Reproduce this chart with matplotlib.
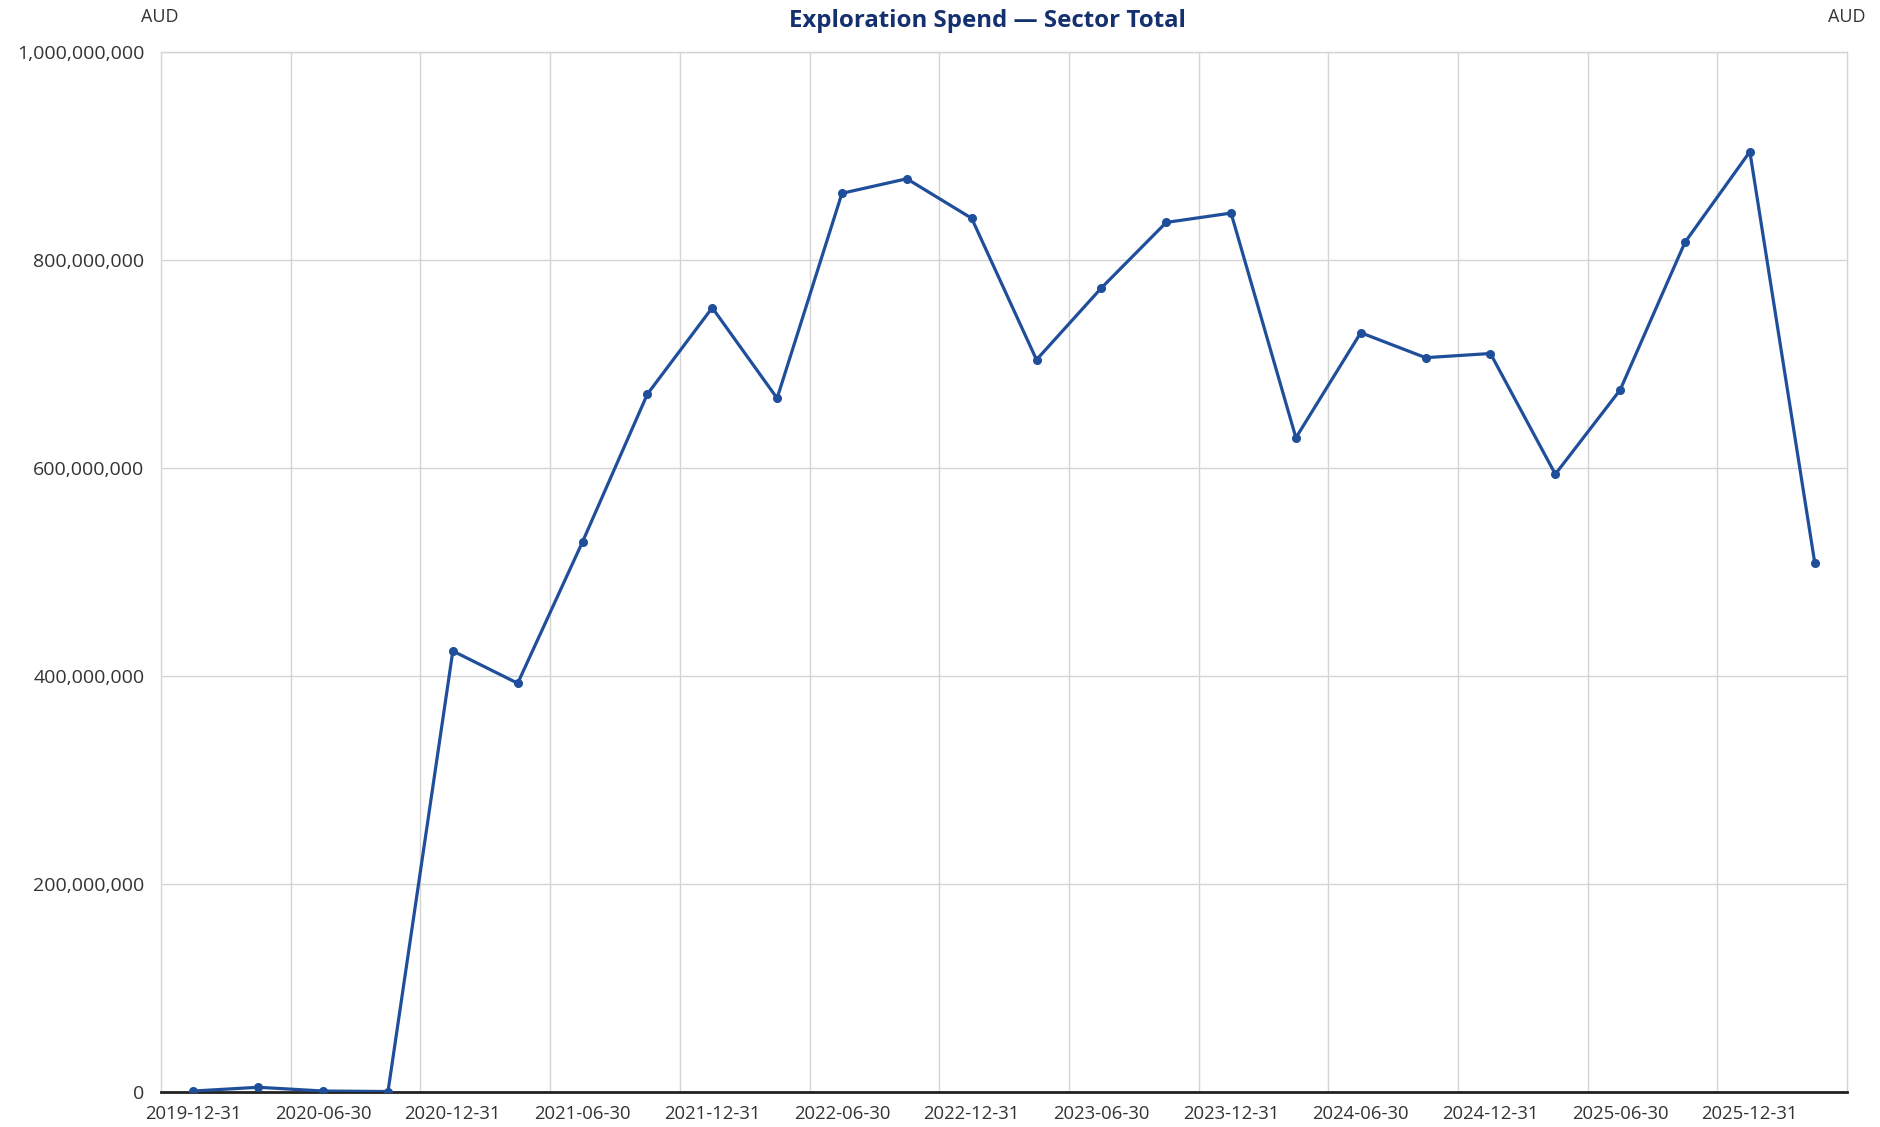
import matplotlib
matplotlib.use("Agg")
import matplotlib.pyplot as plt
from matplotlib.ticker import FuncFormatter

plt.rcParams["font.family"] = ["Open Sans", "DejaVu Sans"]

# quarterly periods
periods = [
    "2019-12-31", "2020-03-31", "2020-06-30", "2020-09-30",
    "2020-12-31", "2021-03-31", "2021-06-30", "2021-09-30",
    "2021-12-31", "2022-03-31", "2022-06-30", "2022-09-30",
    "2022-12-31", "2023-03-31", "2023-06-30", "2023-09-30",
    "2023-12-31", "2024-03-31", "2024-06-30", "2024-09-30",
    "2024-12-31", "2025-03-31", "2025-06-30", "2025-09-30",
    "2025-12-31", "2026-03-31",
]
# exploration spend, AUD
spend = [
    1.0e6, 4.6e6, 1.0e6, 0.5e6,
    424e6, 393e6, 529e6, 671e6,
    754e6, 667e6, 864e6, 878e6,
    840e6, 704e6, 773e6, 836e6,
    845e6, 629e6, 730e6, 706e6,
    710e6, 594e6, 675e6, 817e6,
    904e6, 509e6,
]
y_ticks = [0, 200e6, 400e6, 600e6, 800e6, 1000e6]

LINE = "#1f4e9a"
TITLE = "#14306e"
TEXT = "#333333"

fig = plt.figure(figsize=(18.81, 11.27), dpi=100)
ax = fig.add_axes([0.0856, 0.031, 0.8964, 0.923])

x = list(range(len(periods)))
ax.plot(x, spend, color=LINE, lw=2.3, marker="o", ms=5.5, zorder=3)

ax.set_xlim(-0.5, len(periods) - 0.5)
ax.set_ylim(0, 1e9)
ax.set_yticks(y_ticks)
ax.yaxis.set_major_formatter(FuncFormatter(lambda v, _: f"{v:,.0f}"))
ax.set_xticks(x[::2])
ax.set_xticklabels(periods[::2])
ax.set_xticks([i + 1.5 for i in range(0, len(periods) - 2, 2)], minor=True)

ax.grid(axis="y", color="#d4d4d4", lw=1.0)
ax.grid(axis="x", which="minor", color="#d4d4d4", lw=1.0)
ax.grid(axis="x", which="major", visible=False)
ax.set_axisbelow(True)

for side in ["top", "right", "left"]:
    ax.spines[side].set_color("#d4d4d4")
    ax.spines[side].set_linewidth(1.0)
ax.spines["bottom"].set_color("#222222")
ax.spines["bottom"].set_linewidth(2.0)

ax.tick_params(axis="both", which="both", length=0, colors=TEXT)
ax.tick_params(axis="x", pad=9, labelsize=13.3)
ax.tick_params(axis="y", pad=12, labelsize=14)

fig.text(0.525, 0.981, "Exploration Spend \u2014 Sector Total", ha="center", va="center",
         fontsize=17.3, fontweight="bold", color=TITLE)
fig.text(0.085, 0.985, "AUD", ha="center", va="center", fontsize=13, color=TEXT)
fig.text(0.982, 0.985, "AUD", ha="center", va="center", fontsize=13, color=TEXT)

fig.savefig("out.png", dpi=100)
